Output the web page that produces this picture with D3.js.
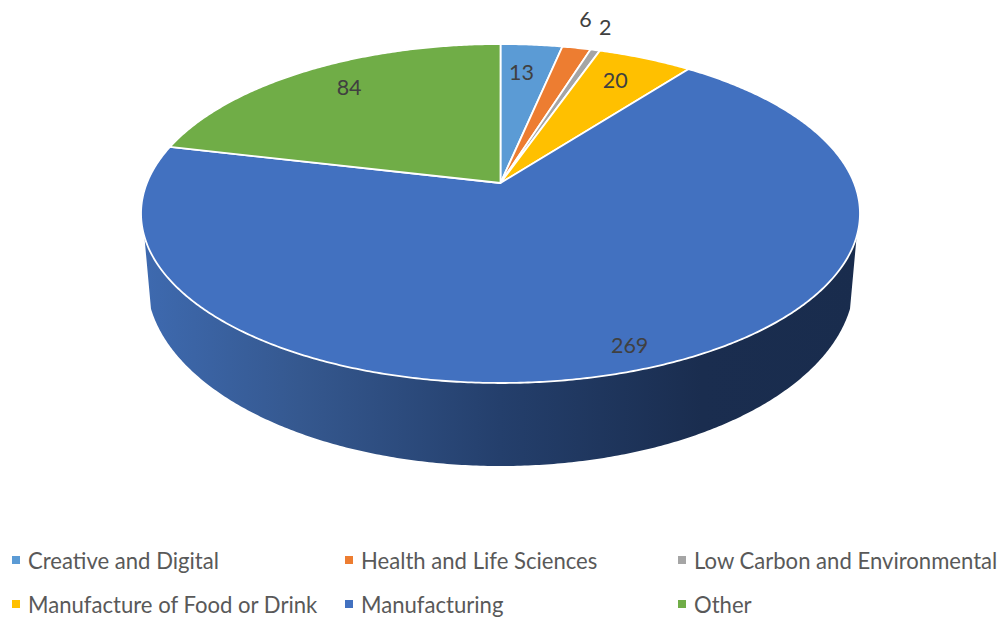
<!DOCTYPE html>
<html>
<head>
    <style>
        body { margin: 0; background: #fff; }
        svg { display: block; }
        text { font-family: Lato, "Open Sans", sans-serif; }
        .label { font-size: 21.5px; fill: #404040; text-anchor: middle; dominant-baseline: central; }
        .legend { font-size: 22.1px; fill: #595959; dominant-baseline: central; }
        .slice { stroke: #fff; stroke-width: 1.8; stroke-linejoin: round; }
    </style>
    <script src="https://d3js.org/d3.v7.min.js"></script>
</head>
<body>

<svg width="1003" height="617"></svg>

<script>
    var categories = ["Creative and Digital", "Health and Life Sciences", "Low Carbon and Environmental",
                      "Manufacture of Food or Drink", "Manufacturing", "Other"];
    var values = [13, 6, 2, 20, 269, 84];
    var colors = ["#5B9BD5", "#ED7D31", "#A5A5A5", "#FFC000", "#4271C0", "#70AD47"];

    // label nudge from the slice's rim midpoint
    var labelNudge = [[-10, 27], [9, -29], [10, -23], [-30, 22], [-14, -24], [41, 17]];

    var svg = d3.select("svg");
    var color = d3.scaleOrdinal().domain(categories).range(colors);

    // the 3d look: a circle seen in perspective, so the centre sits above the middle of the ellipse
    function projector(cx, cy, b, a, k) {
        return function(angle, r) {
            var u = r * Math.sin(angle), v = -r * Math.cos(angle), d = 1 + k * v;
            return [cx + b * u / d, cy + a * v / d];
        };
    }
    var top3d = projector(500.5, 183, 353.6, 164, -0.18);
    var bottom3d = projector(500.5, 246.5, 348, 180, -0.18);

    var pie = d3.pie().sort(null).value(function(d, i) { return values[i]; });
    var arcs = pie(categories);
    var line = d3.line();
    var deg = Math.PI / 180;

    function rim(project, a0, a1) {
        var n = Math.max(2, Math.ceil(Math.abs(a1 - a0) / (0.5 * deg)));
        return d3.range(n + 1).map(function(i) {
            return project(a0 + (a1 - a0) * i / n, 1);
        });
    }

    // wall
    var wallFill = svg.append("defs").append("linearGradient")
        .attr("id", "wall")
        .attr("gradientUnits", "userSpaceOnUse")
        .attr("x1", 141).attr("x2", 860).attr("y1", 0).attr("y2", 0);
    [[0, "#3E6AB0"], [0.22, "#35588F"], [0.5, "#243F6C"], [0.78, "#1A2D4F"], [1, "#192C4D"]].forEach(function(s) {
        wallFill.append("stop").attr("offset", s[0]).attr("stop-color", s[1]);
    });

    var wallPts = rim(top3d, 252 * deg, 108 * deg).concat(rim(bottom3d, 109 * deg, 251 * deg));
    svg.append("path")
        .attr("d", line(wallPts) + "Z")
        .attr("fill", "url(#wall)");

    // top face
    svg.selectAll(".slice")
        .data(arcs)
      .enter().append("path")
        .attr("class", "slice")
        .attr("fill", function(d) { return color(d.data); })
        .attr("d", function(d) {
            return line([top3d(0, 0)].concat(rim(top3d, d.startAngle, d.endAngle))) + "Z";
        });

    // labels
    svg.selectAll(".label")
        .data(arcs)
      .enter().append("text")
        .attr("class", "label")
        .attr("x", function(d, i) { return top3d((d.startAngle + d.endAngle) / 2, 1)[0] + labelNudge[i][0]; })
        .attr("y", function(d, i) { return top3d((d.startAngle + d.endAngle) / 2, 1)[1] + labelNudge[i][1]; })
        .text(function(d) { return d.value; });

    // legend, 3 columns by 2 rows
    var legendX = d3.scaleLinear().domain([0, 2]).range([12, 678]);
    var legendY = d3.scaleLinear().domain([0, 1]).range([560, 604]);

    var item = svg.selectAll(".item")
        .data(categories)
      .enter().append("g")
        .attr("class", "item")
        .attr("transform", function(d, i) {
            return "translate(" + legendX(i % 3) + "," + legendY(Math.floor(i / 3)) + ")";
        });

    item.append("rect")
        .attr("y", -4).attr("width", 8).attr("height", 8)
        .attr("fill", function(d) { return color(d); });

    item.append("text")
        .attr("class", "legend")
        .attr("x", 16)
        .text(function(d) { return d; });
</script>
</body>
</html>
